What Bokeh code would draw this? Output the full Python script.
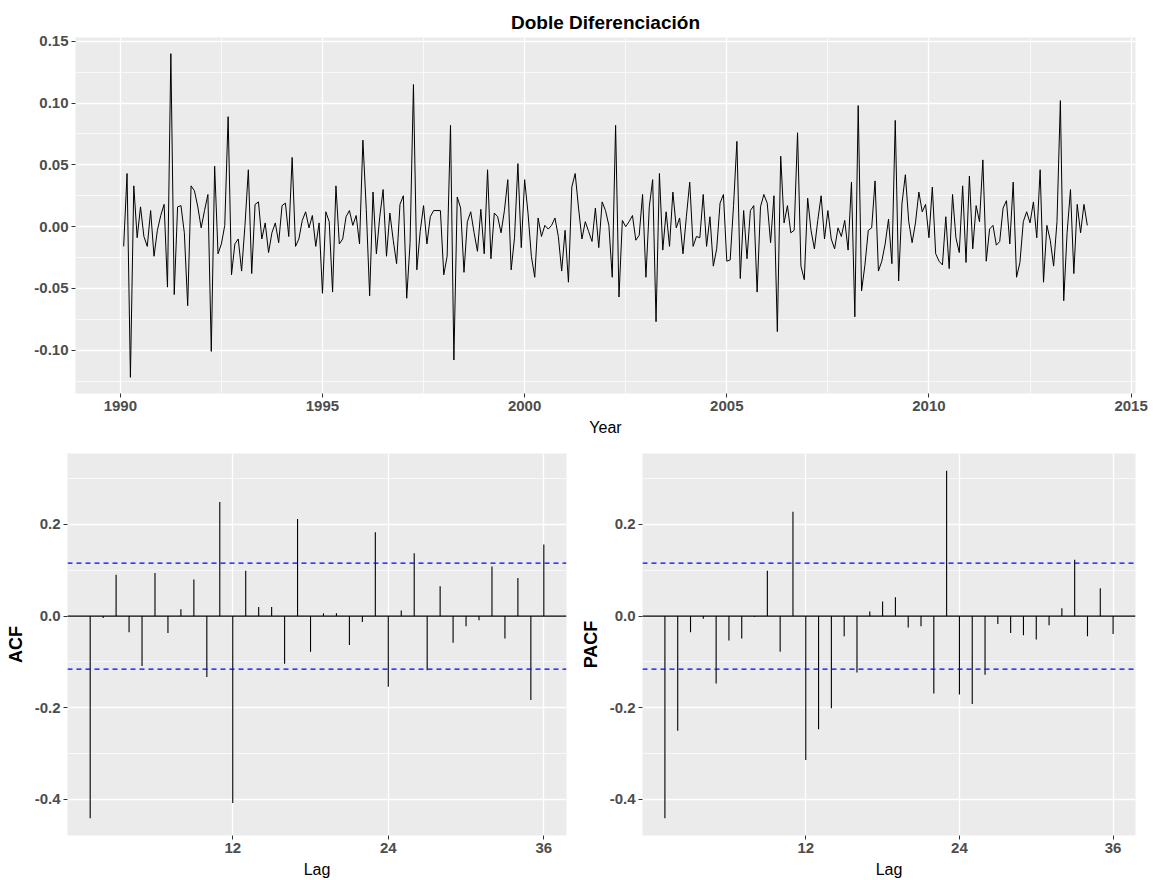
import numpy as np
from bokeh.plotting import figure
from bokeh.layouts import column, row
from bokeh.models import Range1d, FixedTicker, PrintfTickFormatter, Span
from bokeh.embed import file_html
from bokeh.resources import INLINE

# ---------------- data ----------------
titulo = "Doble Diferenciación"
x_label_top = "Year"
x_label_bottom = "Lag"
start_year = 1990
start_month = 2  # February 1990

serie = [
    -0.016, 0.043, -0.122, 0.033, -0.009, 0.016, -0.008, -0.016, 0.013, -0.024,
    -0.003, 0.009, 0.018, -0.049, 0.140, -0.055, 0.016, 0.017, -0.005, -0.064,
    0.033, 0.029, 0.016, -0.001, 0.013, 0.026, -0.101, 0.049, -0.022, -0.014,
    0.001, 0.089, -0.039, -0.014, -0.010, -0.036, 0.001, 0.046, -0.038, 0.018,
    0.020, -0.010, 0.003, -0.021, -0.005, 0.003, -0.013, 0.017, 0.019, -0.008,
    0.056, -0.016, -0.010, 0.005, 0.012, -0.001, 0.009, -0.016, 0.003, -0.054,
    0.012, 0.004, -0.053, 0.033, -0.014, -0.010, 0.008, 0.013, 0.001, 0.009,
    -0.014, 0.070, 0.014, -0.056, 0.028, -0.022, 0.008, 0.030, -0.024, 0.011,
    -0.011, -0.030, 0.018, 0.025, -0.058, -0.013, 0.115, -0.035, -0.004, 0.017,
    -0.014, 0.008, 0.013, 0.013, 0.013, -0.039, -0.024, 0.082, -0.108, 0.024,
    0.015, -0.037, 0.004, 0.012, -0.005, -0.020, 0.014, -0.022, 0.046, -0.026,
    0.011, 0.008, -0.005, 0.013, 0.038, -0.035, -0.009, 0.051, -0.017, 0.038,
    0.011, -0.024, -0.041, 0.007, -0.008, 0.001, -0.002, 0.001, 0.007, -0.008,
    -0.036, -0.003, -0.045, 0.032, 0.043, 0.015, -0.010, 0.004, -0.004, -0.012,
    0.015, -0.017, 0.020, 0.013, 0.001, -0.041, 0.082, -0.057, 0.005, 0.000,
    0.004, 0.009, -0.011, -0.007, 0.026, -0.041, 0.016, 0.038, -0.077, 0.043,
    -0.019, 0.012, -0.016, 0.028, -0.001, 0.007, -0.022, 0.008, 0.036, -0.016,
    -0.008, -0.009, 0.026, -0.016, 0.008, -0.032, -0.018, 0.019, 0.026, -0.028,
    -0.027, 0.017, 0.069, -0.042, 0.013, -0.026, 0.013, 0.017, -0.053, 0.016,
    0.026, 0.019, -0.013, 0.025, -0.085, 0.057, 0.003, 0.017, -0.005, -0.003,
    0.076, -0.032, -0.043, 0.023, -0.003, -0.018, 0.005, 0.025, -0.010, 0.013,
    -0.010, -0.018, -0.001, -0.008, 0.005, -0.019, 0.036, -0.073, 0.098, -0.052,
    -0.031, -0.003, -0.001, 0.037, -0.036, -0.028, -0.014, 0.006, -0.030, 0.086,
    -0.044, 0.019, 0.042, 0.004, -0.013, 0.003, 0.028, 0.012, 0.018, -0.009,
    0.032, -0.022, -0.028, -0.031, 0.008, -0.034, 0.026, -0.009, -0.021, 0.033,
    -0.029, 0.041, -0.018, 0.017, 0.004, 0.054, -0.028, -0.002, 0.001, -0.015,
    -0.012, 0.015, 0.021, -0.014, 0.036, -0.041, -0.029, 0.004, 0.012, 0.003,
    0.020, -0.009, 0.046, -0.045, 0.001, -0.011, -0.032, 0.004, 0.102, -0.060,
    -0.005, 0.030, -0.038, 0.018, -0.005, 0.018, 0.001,
]

lags = list(range(1, 37))
acf_vals = [
    -0.441, -0.004, 0.090, -0.035, -0.109, 0.094, -0.037, 0.015, 0.080, -0.133,
    0.249, -0.408, 0.099, 0.020, 0.020, -0.104, 0.212, -0.078, 0.006, 0.006,
    -0.063, -0.013, 0.183, -0.154, 0.012, 0.137, -0.118, 0.065, -0.058, -0.022,
    -0.009, 0.108, -0.049, 0.083, -0.183, 0.156,
]
pacf_vals = [
    -0.441, -0.250, -0.035, -0.006, -0.147, -0.053, -0.049, -0.002, 0.099, -0.078,
    0.228, -0.314, -0.247, -0.201, -0.044, -0.123, 0.010, 0.032, 0.041, -0.025,
    -0.022, -0.169, 0.317, -0.171, -0.192, -0.128, -0.017, -0.037, -0.042, -0.051,
    -0.020, 0.017, 0.123, -0.044, 0.061, -0.039,
]

top_xticks = [1990, 1995, 2000, 2005, 2010, 2015]
top_xminor = [1987.5, 1992.5, 1997.5, 2002.5, 2007.5, 2012.5]
top_yticks = [-0.10, -0.05, 0.0, 0.05, 0.10, 0.15]
top_yminor = [-0.125, -0.075, -0.025, 0.025, 0.075, 0.125]
lag_ticks = [12, 24, 36]
cf_yticks = [-0.4, -0.2, 0.0, 0.2]
cf_yminor = [-0.3, -0.1, 0.1, 0.3]

# ---------------- helpers ----------------
FONT = "Liberation Sans"


def expand(lo, hi, f=0.05):
    d = (hi - lo) * f
    return lo - d, hi + d


def style(p, xticks, xminor, yticks, yminor, yfmt):
    p.background_fill_color = "#EBEBEB"
    p.border_fill_color = "white"
    p.outline_line_color = None
    for ax in (p.xaxis[0], p.yaxis[0]):
        ax.axis_line_color = None
        ax.major_tick_line_color = "#333333"
        ax.major_tick_line_width = 1
        ax.major_tick_in = 0
        ax.major_tick_out = 4
        ax.minor_tick_line_color = None
        ax.major_label_text_font = FONT
        ax.major_label_text_font_style = "bold"
        ax.major_label_text_color = "#4D4D4D"
        ax.major_label_text_font_size = "15px"
        ax.major_label_standoff = 3
        ax.axis_label_text_font = FONT
        ax.axis_label_text_color = "black"
    p.xaxis[0].ticker = FixedTicker(ticks=xticks, minor_ticks=xminor)
    p.yaxis[0].ticker = FixedTicker(ticks=yticks, minor_ticks=yminor)
    p.yaxis[0].formatter = PrintfTickFormatter(format=yfmt)
    for g in (p.xgrid[0], p.ygrid[0]):
        g.grid_line_color = "white"
        g.grid_line_width = 1.3
        g.minor_grid_line_color = "white"
        g.minor_grid_line_width = 0.7
    if not xminor:
        p.xgrid[0].minor_grid_line_color = None


# ---------------- top: time series ----------------
n = len(serie)
t = [start_year + (start_month - 1 + i) / 12.0 for i in range(n)]
xr = expand(min(t), max(t))
yr = expand(min(serie), max(serie))

top = figure(width=1154, height=440, output_backend="svg", toolbar_location=None,
             x_range=Range1d(*xr), y_range=Range1d(*yr),
             min_border_left=75, min_border_right=19, min_border_top=37, min_border_bottom=47)
style(top, top_xticks, top_xminor, top_yticks, top_yminor, "%.2f")
top.xaxis.axis_label = x_label_top
top.xaxis.axis_label_text_font_size = "16px"
top.xaxis.axis_label_text_font_style = "normal"
top.xaxis.axis_label_standoff = 5
top.title.text = titulo
top.title.align = "center"
top.title.text_font = FONT
top.title.text_font_size = "19px"
top.title.text_font_style = "bold"
top.title.text_color = "black"
top.line(t, serie, line_color="black", line_width=1)

# ---------------- bottom: ACF / PACF ----------------
ci = 1.96 / np.sqrt(n)
lag_range = expand(min(lags), max(lags))
cf_range = expand(min(min(acf_vals), min(pacf_vals), -ci), max(max(acf_vals), max(pacf_vals), ci))


def cf_plot(vals, label, left, right):
    p = figure(width=577, height=440, output_backend="svg", toolbar_location=None,
               x_range=Range1d(*lag_range), y_range=Range1d(*cf_range),
               min_border_left=left, min_border_right=right, min_border_top=13, min_border_bottom=44)
    style(p, lag_ticks, [], cf_yticks, cf_yminor, "%.1f")
    p.yaxis.axis_label = label
    p.yaxis.axis_label_text_font_size = "18px"
    p.yaxis.axis_label_text_font_style = "bold"
    p.yaxis.axis_label_standoff = 6
    p.xaxis.axis_label = x_label_bottom
    p.xaxis.axis_label_text_font_size = "16px"
    p.xaxis.axis_label_text_font_style = "normal"
    p.xaxis.axis_label_standoff = 5
    p.add_layout(Span(location=0, dimension="width", line_color="black", line_width=1.1))
    p.segment(x0=lags, y0=[0] * len(lags), x1=lags, y1=vals, line_color="black", line_width=1.1)
    for loc in (ci, -ci):
        p.add_layout(Span(location=loc, dimension="width", line_color="#0000FF",
                          line_width=1.4, line_dash="5 4"))
    return p


acf_p = cf_plot(acf_vals, "ACF", 67, 11)
pacf_p = cf_plot(pacf_vals, "PACF", 61, 19)

layout = column(top, row(acf_p, pacf_p, spacing=0), spacing=0)
open("out.html", "w").write(file_html(layout, INLINE))
